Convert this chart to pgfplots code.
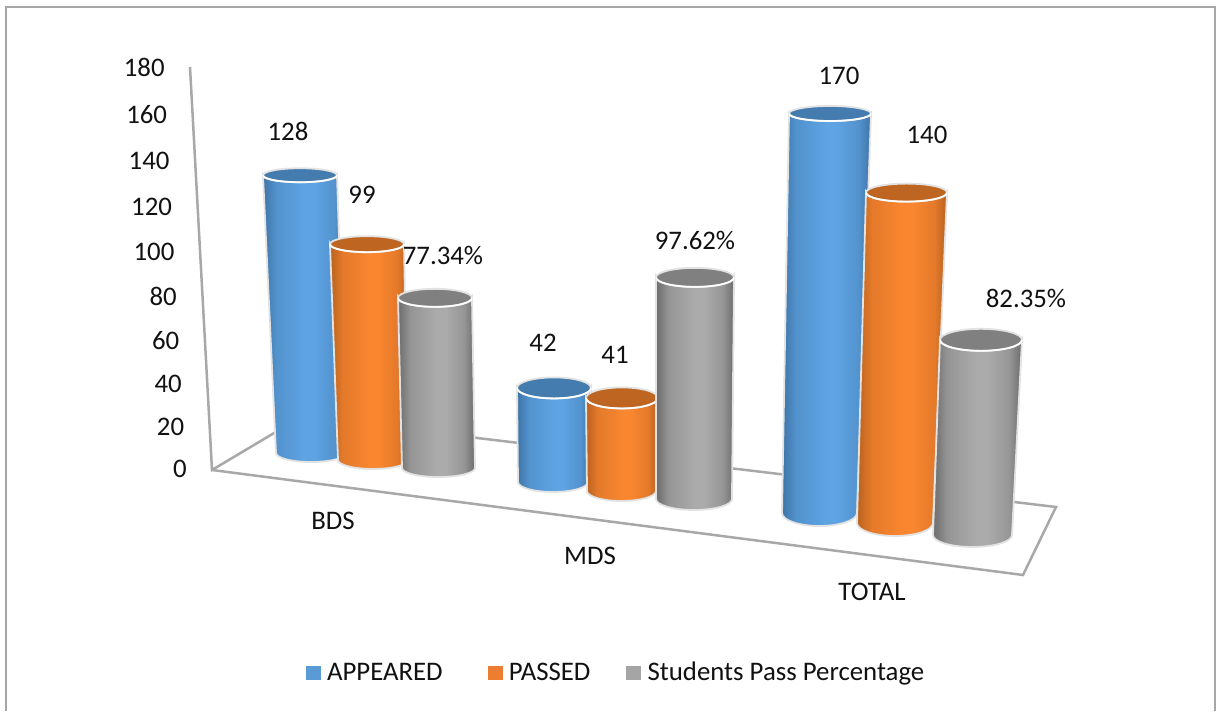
\documentclass[border=0pt]{standalone}
\usepackage{pgfplots}
\pgfplotsset{compat=1.18}
\usepackage{fontspec}
\setmainfont{Carlito}

\definecolor{blueLight}{HTML}{5EA3E3}
\definecolor{blueDark}{HTML}{3E74A6}
\definecolor{blueTop}{HTML}{447CAF}
\definecolor{blueKey}{HTML}{5B9BD5}
\definecolor{orangeLight}{HTML}{FA8630}
\definecolor{orangeDark}{HTML}{B9621F}
\definecolor{orangeTop}{HTML}{BF6522}
\definecolor{orangeKey}{HTML}{ED7D31}
\definecolor{grayLight}{HTML}{ABABAB}
\definecolor{grayDark}{HTML}{6C6C6C}
\definecolor{grayTop}{HTML}{808080}
\definecolor{grayKey}{HTML}{A5A5A5}
\definecolor{cylRim}{HTML}{E2E2E2}
\definecolor{wallLine}{HTML}{A8A8A8}
\definecolor{labelText}{HTML}{111111}
\colorlet{blueMid}{blueLight!65!blueDark}
\colorlet{orangeMid}{orangeLight!65!orangeDark}
\colorlet{grayMid}{grayLight!65!grayDark}

\pgfdeclarehorizontalshading{blueCyl}{100bp}{color(0bp)=(blueDark); color(25bp)=(blueDark); color(33bp)=(blueMid); color(50bp)=(blueLight); color(56bp)=(blueLight); color(68bp)=(blueMid); color(75bp)=(blueDark); color(100bp)=(blueDark)}
\pgfdeclarehorizontalshading{orangeCyl}{100bp}{color(0bp)=(orangeDark); color(25bp)=(orangeDark); color(33bp)=(orangeMid); color(50bp)=(orangeLight); color(56bp)=(orangeLight); color(68bp)=(orangeMid); color(75bp)=(orangeDark); color(100bp)=(orangeDark)}
\pgfdeclarehorizontalshading{grayCyl}{100bp}{color(0bp)=(grayDark); color(25bp)=(grayDark); color(33bp)=(grayMid); color(50bp)=(grayLight); color(56bp)=(grayLight); color(68bp)=(grayMid); color(75bp)=(grayDark); color(100bp)=(grayDark)}

% one picture pixel is 0.5pt; the mark is drawn from the centre of the base
\newcommand\declarecyl[3]{%
  \pgfdeclareplotmark{#1}{%
    \pgfmathsetmacro\ch{\cval*\cs*0.5}%
    \pgfmathsetmacro\ctx{\cdx*0.5}%
    \pgfmathsetmacro\crb{\rb*0.5}%
    \pgfmathsetmacro\crt{\rt*0.5}%
    \pgfmathsetmacro\cyb{\ryb*0.5}%
    \pgfmathsetmacro\cyt{\ryt*0.5}%
    \pgfmathsetmacro\ctl{\ctx-\crt}%
    \shade[shading=#2,draw=cylRim,line width=0.9pt]
      (-\crb pt,0pt) -- (\ctl pt,\ch pt)
      arc[start angle=180,end angle=360,x radius=\crt pt,y radius=\cyt pt]
      -- (\crb pt,0pt)
      arc[start angle=0,end angle=-180,x radius=\crb pt,y radius=\cyb pt]
      -- cycle;
    \fill[#3,draw=cylRim,line width=0.9pt] (\ctx pt,\ch pt) ellipse[x radius=\crt pt,y radius=\cyt pt];
    \draw[white,line width=0.8pt] (\ctl pt,\ch pt)
      arc[start angle=180,end angle=360,x radius=\crt pt,y radius=\cyt pt];
  }%
}
\declarecyl{cylBlue}{blueCyl}{blueTop}
\declarecyl{cylOrange}{orangeCyl}{orangeTop}
\declarecyl{cylGray}{grayCyl}{grayTop}

\pgfplotsset{
  cylinders/.style={
    scatter, only marks, mark=#1,
    visualization depends on={\thisrow{val} \as \cval},
    visualization depends on={\thisrow{s} \as \cs},
    visualization depends on={\thisrow{dx} \as \cdx},
    visualization depends on={\thisrow{rb} \as \rb},
    visualization depends on={\thisrow{rt} \as \rt},
    visualization depends on={\thisrow{ryb} \as \ryb},
    visualization depends on={\thisrow{ryt} \as \ryt},
  },
  keysquare/.style={legend image code/.code={\fill[#1] (0pt,-3.4pt) rectangle (7pt,3.4pt);}},
  valuelabels/.style={
    forget plot, only marks, mark=none, point meta=explicit,
    every node near coord/.append style={anchor=center,inner sep=0pt,text=labelText},
  },
}

\begin{document}
\begin{tikzpicture}
\begin{axis}[
    scale only axis, width=608pt, height=355.5pt,
    xmin=0, xmax=1216, ymin=-108.62, ymax=210.5,
    clip=false,
    axis line style={draw=none}, tick style={draw=none},
    xtick=\empty,
    ytick={0,20,...,180},
    yticklabel={%
      \pgfmathsetlengthmacro\tpad{\tick*22/180*0.5pt}%
      \pgfmathsetlengthmacro\tdrop{-4.3pt-0.00074*\tick*(180-\tick)*0.5pt}%
      \pgfmathtruncatemacro\tval{\tick}%
      \raisebox{\tdrop}[0pt][0pt]{\tval}\kern\tpad},
    yticklabel style={xshift=93.5pt,inner sep=0pt,anchor=east,text=labelText},
    /pgf/number format/assume math mode=true,
    legend style={at={(0.5066,0.0534)},anchor=center,draw=none,legend columns=3,
      /tikz/every odd column/.append style={column sep=2.2pt},
      /tikz/every even column/.append style={column sep=21.5pt},
      nodes={inner sep=1pt,text=labelText}},
    font=\fontsize{13.4}{16}\selectfont,
]
% walls and floor, in picture pixels
\addplot[forget plot,wallLine,line width=1.25pt] table[x=px,y expr=(469-\thisrow{py})/2.228] {
px py
190 67
212 470
301 417
1056 507
1023 575
212 470
};
\addplot[forget plot,gray!70,line width=0.9pt] table[x=px,y expr=(469-\thisrow{py})/2.228] {
px py
6 711
6 7
1215 7
1215 711
};

\addplot[cylinders=cylBlue,keysquare=blueKey] table[x=px,y expr=(469-\thisrow{py})/2.228] {
px py val s dx rb rt ryb ryt
311 453 128 2.17 -11 35 37 9 7
553 482 42 2.24 1 35 37 10 10.5
819.5 513 170 2.35 10.5 37.5 41 13 7.5
};
\addlegendentry{APPEARED}
\addplot[cylinders=cylOrange,keysquare=orangeKey] table[x=px,y expr=(469-\thisrow{py})/2.228] {
px py val s dx rb rt ryb ryt
373 460 99 2.18 -6 35 37 9 8
621.5 491 41 2.27 0.5 34.5 36 10 10.5
895 523 140 2.36 11.5 38 40.5 13 9
};
\addlegendentry{PASSED\kern-4.5pt}
\addplot[cylinders=cylGray,keysquare=grayKey] table[x=px,y expr=(469-\thisrow{py})/2.228] {
px py val s dx rb rt ryb ryt
438.5 468 77.34 2.20 -3.5 36.5 37 9 9
694 499 97.62 2.27 1 38 39 11 9.5
972.5 535 82.35 2.37 8.5 39.5 41 12 11
};
\addlegendentry{Students Pass Percentage}

% value labels
\addplot[valuelabels,
    nodes near coords={\pgfmathprintnumber[fixed,precision=0,assume math mode=true]{\pgfplotspointmeta}}]
  table[x=px,y expr=(469-\thisrow{py})/2.228,meta=val] {
px py val
288 131 128
362 195 99
543 343 42
615 355 41
839 76 170
927 135 140
};
\addplot[valuelabels,
    nodes near coords={\pgfmathprintnumber[fixed,fixed zerofill,precision=2,assume math mode=true]{\pgfplotspointmeta}\%}]
  table[x=px,y expr=(469-\thisrow{py})/2.228,meta=val] {
px py val
443 255 77.34
695 240 97.62
1026 298 82.35
};

% category names
\addplot[forget plot,only marks,mark=none,point meta=explicit symbolic,
    nodes near coords,
    every node near coord/.append style={anchor=center,inner sep=0pt,text=labelText}]
  table[x=px,y expr=(469-\thisrow{py})/2.228,meta=name] {
px py name
333 521 BDS
590 556 MDS
872 592 TOTAL
};
\end{axis}
\end{tikzpicture}
\end{document}
